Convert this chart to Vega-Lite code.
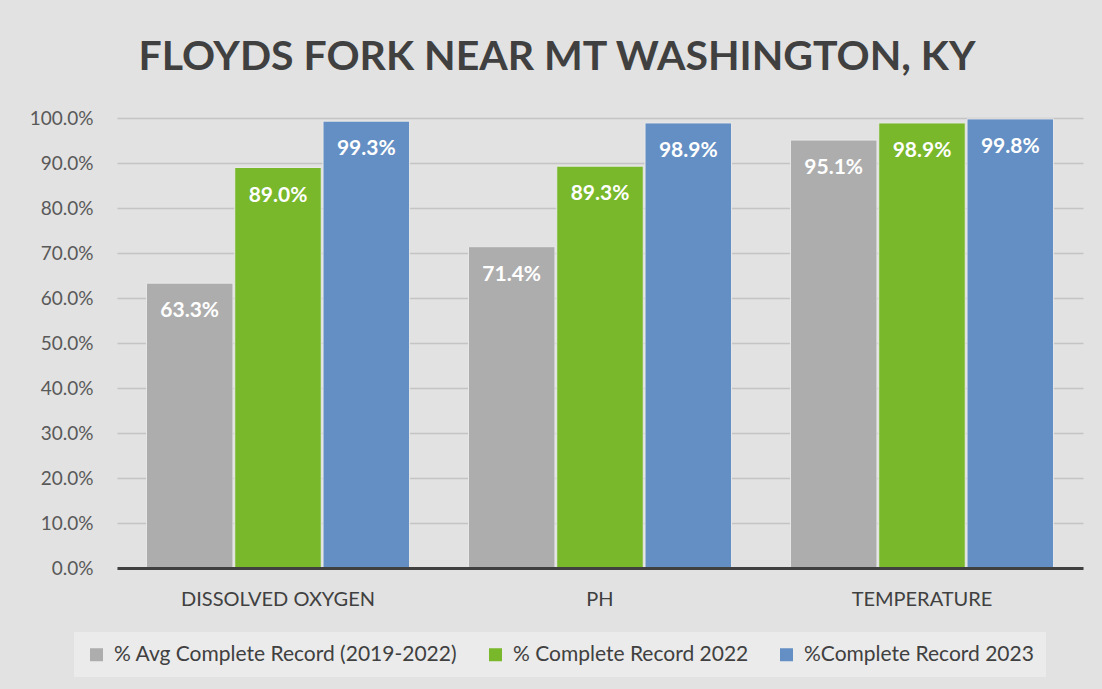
{
  "$schema": "https://vega.github.io/schema/vega-lite/v6.json",
  "autosize": "none",
  "width": 966,
  "height": 450,
  "padding": {"left": 117, "top": 118, "right": 19, "bottom": 121},
  "background": "#e2e2e2",
  "title": {
    "text": "FLOYDS FORK NEAR MT WASHINGTON, KY",
    "font": "Lato",
    "fontSize": 41,
    "fontWeight": "bold",
    "color": "#404040",
    "anchor": "middle",
    "frame": "group",
    "dx": -43,
    "offset": 30
  },
  "config": {
    "view": {"stroke": null},
    "font": "Lato"
  },
  "data": {
    "values": [
      {"param": "DISSOLVED OXYGEN", "series": "% Avg Complete Record (2019-2022)", "value": 0.633},
      {"param": "DISSOLVED OXYGEN", "series": "% Complete Record 2022", "value": 0.890},
      {"param": "DISSOLVED OXYGEN", "series": "%Complete Record 2023", "value": 0.993},
      {"param": "PH", "series": "% Avg Complete Record (2019-2022)", "value": 0.714},
      {"param": "PH", "series": "% Complete Record 2022", "value": 0.893},
      {"param": "PH", "series": "%Complete Record 2023", "value": 0.989},
      {"param": "TEMPERATURE", "series": "% Avg Complete Record (2019-2022)", "value": 0.951},
      {"param": "TEMPERATURE", "series": "% Complete Record 2022", "value": 0.989},
      {"param": "TEMPERATURE", "series": "%Complete Record 2023", "value": 0.998}
    ]
  },
  "encoding": {
    "x": {
      "field": "param",
      "type": "nominal",
      "sort": null,
      "scale": {"paddingInner": 0.183, "paddingOuter": 0.0915},
      "axis": {
        "title": null,
        "labelAngle": 0,
        "labelFont": "Lato",
        "labelFontSize": 20,
        "labelLimit": 400,
        "labelColor": "#404040",
        "labelPadding": 21,
        "ticks": false,
        "domainColor": "#404040",
        "domainWidth": 3,
        "zindex": 1
      }
    },
    "xOffset": {
      "field": "series",
      "type": "nominal",
      "sort": ["% Avg Complete Record (2019-2022)", "% Complete Record 2022", "%Complete Record 2023"],
      "scale": {"paddingInner": 0.02, "paddingOuter": 0}
    },
    "y": {
      "field": "value",
      "type": "quantitative",
      "scale": {"domain": [0, 1]},
      "axis": {
        "title": null,
        "format": ".1%",
        "values": [0, 0.1, 0.2, 0.3, 0.4, 0.5, 0.6, 0.7, 0.8, 0.9, 1.0],
        "labelOverlap": false,
        "labelFont": "Lato",
        "labelFontSize": 19,
        "labelColor": "#595959",
        "labelPadding": 24,
        "ticks": false,
        "domain": false,
        "gridColor": "#c4c4c4",
        "gridWidth": 1.5
      }
    }
  },
  "layer": [
    {
      "mark": {"type": "bar", "stroke": "#e8e8e8", "strokeWidth": 1},
      "encoding": {
        "color": {
          "field": "series",
          "type": "nominal",
          "scale": {
            "domain": ["% Avg Complete Record (2019-2022)", "% Complete Record 2022", "%Complete Record 2023"],
            "range": ["#adadad", "#78b82a", "#648fc4"]
          },
          "legend": {
            "title": null,
            "orient": "none",
            "legendX": -43,
            "legendY": 514,
            "direction": "horizontal",
            "symbolType": "square",
            "symbolSize": 169,
            "symbolStrokeWidth": 0,
            "labelFont": "Lato",
            "labelFontSize": 21,
            "labelColor": "#404040",
            "labelOffset": 7,
            "columnPadding": 27,
            "labelLimit": 500,
            "fillColor": "#ebebeb",
            "padding": 12
          }
        }
      }
    },
    {
      "mark": {"type": "text", "color": "white", "fontWeight": "bold", "fontSize": 21, "font": "Lato", "baseline": "middle", "dy": 28},
      "encoding": {
        "text": {"field": "value", "type": "quantitative", "format": ".1%"}
      }
    }
  ]
}
